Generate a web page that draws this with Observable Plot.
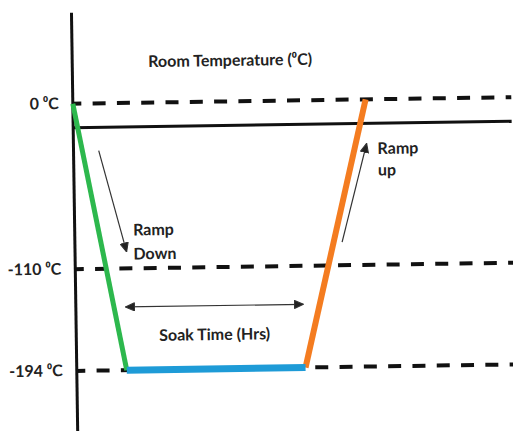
<!DOCTYPE html>
<html><head><meta charset="utf-8">
<script src="https://cdn.jsdelivr.net/npm/d3@7"></script>
<script src="https://cdn.jsdelivr.net/npm/@observablehq/plot@0.6"></script>
<style>
html,body{margin:0;padding:0;background:#fff;overflow:hidden}
#chart svg{display:block;transform:rotate(-0.85deg);transform-origin:256.5px 215.5px}
</style>
</head><body><div id="chart"></div><script>
// Process profile (time in schematic hours, temperature in °C)
const phaseNames = ["Ramp Down", "Soak", "Ramp Up"];
const phaseTimes = [0, 1.25, 5.72, 7.32];
const phaseTemps = [0, -194, -194, 0];
const phaseColors = ["#2db84d", "#1e9bd7", "#f47c20"];

// Reference levels
const levelTemps = [0, -110, -194];
const levelLabels = ["0 \u2070C", "-110 \u2070C", "-194 \u2070C"];
const roomLineTemp = -16;
const timeEnd = 11;

// Annotations
const noteTexts = ["Room Temperature (\u2070C)", "Ramp\nDown", "Ramp\nup", "Soak Time (Hrs)"];
const noteTimes = [1.9, 1.46, 7.6, 3.46];
const noteTemps = [27, -91, -39, -166];

const arrowNames = ["ramp down", "ramp up", "soak"];
const arrowT1 = [0.63, 6.68, 1.24];
const arrowV1 = [-31.4, -94.7, -141.8];
const arrowT2 = [1.29, 7.33, 5.69];
const arrowV2 = [-99, -29.3, -141.8];

const segments = phaseNames.map((name, i) => ({
  name, color: phaseColors[i],
  t1: phaseTimes[i], v1: phaseTemps[i], t2: phaseTimes[i + 1], v2: phaseTemps[i + 1]
}));
const levels = levelTemps.map((v, i) => ({v, label: levelLabels[i]}));
const notes = noteTexts.map((text, i) => ({text, t: noteTimes[i], v: noteTemps[i]}));
const arrows = arrowNames.map((name, i) => ({name, t1: arrowT1[i], v1: arrowV1[i], t2: arrowT2[i], v2: arrowV2[i]}));

const head = (color) => {
  const ns = "http://www.w3.org/2000/svg";
  const m = document.createElementNS(ns, "marker");
  m.setAttribute("viewBox", "0 -5 10 10");
  m.setAttribute("refX", "10");
  m.setAttribute("refY", "0");
  m.setAttribute("markerWidth", "10");
  m.setAttribute("markerHeight", "9");
  m.setAttribute("markerUnits", "userSpaceOnUse");
  m.setAttribute("orient", "auto-start-reverse");
  const p = document.createElementNS(ns, "path");
  p.setAttribute("d", "M0,-4.5L10,0L0,4.5Z");
  p.setAttribute("fill", "#222");
  m.appendChild(p);
  return m;
};

const font = "Lato, 'Open Sans', sans-serif";
const textOpts = {fontFamily: font, fontWeight: "bold", fontSize: 16, fill: "#222"};

const chart = Plot.plot({
  width: 513,
  height: 431,
  marginTop: 10, marginBottom: 0, marginLeft: 0, marginRight: 0,
  x: {domain: [0, timeEnd], range: [74, 514], axis: null},
  y: {type: "linear", domain: [-194, -110, 0], range: [367.7, 266, 100.5], axis: null},
  style: {fontFamily: font, background: "#fff"},
  marks: [
    Plot.ruleY(levels, {y: "v", x1: 0, x2: timeEnd, stroke: "#111", strokeWidth: 4, strokeDasharray: "13,11.3", strokeDashoffset: 4}),
    Plot.ruleY([roomLineTemp], {x1: 0, x2: timeEnd, stroke: "#111", strokeWidth: 3}),
    Plot.ruleX([0], {stroke: "#111", strokeWidth: 3}),
    Plot.link(segments.filter(d => d.name === "Ramp Down"), {x1: "t1", y1: "v1", x2: "t2", y2: "v2", stroke: "color", strokeWidth: 5}),
    Plot.link(segments.filter(d => d.name === "Ramp Up"), {x1: "t1", y1: "v1", x2: "t2", y2: "v2", stroke: "color", strokeWidth: 6}),
    Plot.link(segments.filter(d => d.name === "Soak"), {x1: "t1", y1: "v1", x2: "t2", y2: "v2", stroke: "color", strokeWidth: 7}),
    Plot.link(arrows.filter(d => d.name !== "soak"), {x1: "t1", y1: "v1", x2: "t2", y2: "v2", stroke: "#333", strokeWidth: 1.2, markerEnd: head}),
    Plot.link(arrows.filter(d => d.name === "soak"), {x1: "t1", y1: "v1", x2: "t2", y2: "v2", stroke: "#333", strokeWidth: 1.2, markerStart: head, markerEnd: head}),
    Plot.text(levels, {y: "v", text: "label", frameAnchor: "left", dx: 60, textAnchor: "end", ...textOpts}),
    Plot.text(notes.filter(d => d.text.startsWith("Room")), {x: "t", y: "v", text: "text", textAnchor: "start", ...textOpts}),
    Plot.text(notes.filter(d => d.text.startsWith("Soak")), {x: "t", y: "v", text: "text", textAnchor: "middle", ...textOpts}),
    Plot.text(notes.filter(d => d.text === "Ramp\nDown"), {x: "t", y: "v", text: "text", textAnchor: "start", lineHeight: 1.5, ...textOpts}),
    Plot.text(notes.filter(d => d.text === "Ramp\nup"), {x: "t", y: "v", text: "text", textAnchor: "start", lineHeight: 1.35, ...textOpts})
  ]
});
document.getElementById("chart").appendChild(chart);
</script></body></html>
